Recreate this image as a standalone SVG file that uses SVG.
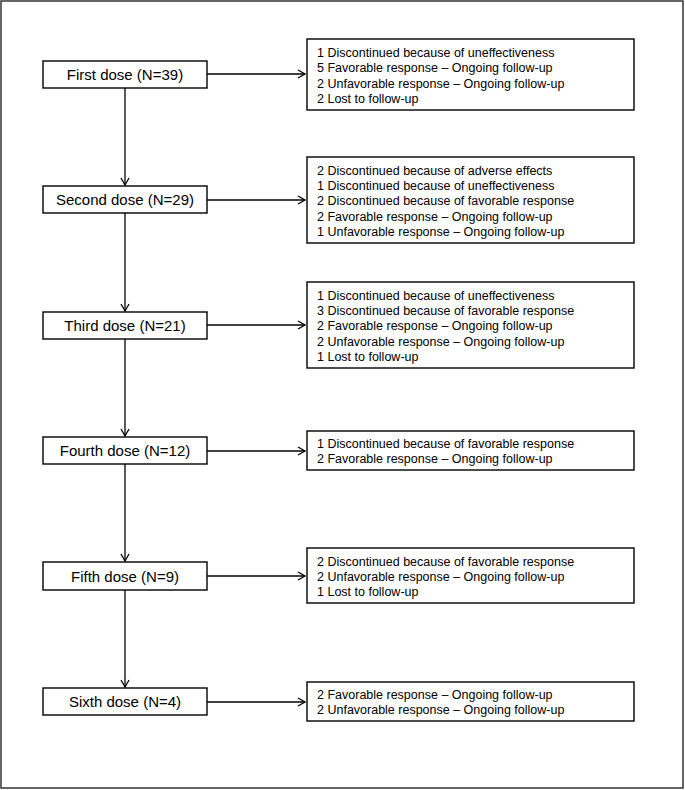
<svg xmlns="http://www.w3.org/2000/svg" width="685" height="790" viewBox="0 0 685 790">
<defs>
<marker id="ah" markerWidth="10" markerHeight="10" refX="8" refY="5" orient="auto" markerUnits="userSpaceOnUse">
<path d="M1,1 L8,5 L1,9" fill="none" stroke="#000" stroke-width="1.3"/>
</marker>
<style>
.box{fill:#fff;stroke:#000;stroke-width:1.4}
.lt{font-family:"Liberation Sans",Arial,sans-serif;font-size:15px;text-anchor:middle;fill:#000}
.rt{font-family:"Liberation Sans",Arial,sans-serif;font-size:12.5px;fill:#000}
.con{stroke:#000;stroke-width:1.3;fill:none;marker-end:url(#ah)}
</style>
</defs>
<rect x="0" y="0" width="685" height="790" fill="#fff"/>
<rect x="1" y="1" width="682" height="787" fill="none" stroke="#333" stroke-width="1.5"/>
<g id="connectors">
<line class="con" x1="207" y1="74" x2="305" y2="74"/>
<line class="con" x1="207" y1="200" x2="305" y2="200"/>
<line class="con" x1="207" y1="325" x2="305" y2="325"/>
<line class="con" x1="207" y1="451" x2="305" y2="451"/>
<line class="con" x1="207" y1="576" x2="305" y2="576"/>
<line class="con" x1="207" y1="702" x2="305" y2="702"/>
<line class="con" x1="125" y1="88" x2="125" y2="185"/>
<line class="con" x1="125" y1="213" x2="125" y2="311"/>
<line class="con" x1="125" y1="339" x2="125" y2="436"/>
<line class="con" x1="125" y1="464" x2="125" y2="561"/>
<line class="con" x1="125" y1="590" x2="125" y2="687"/>
</g>
<g id="dose1"><rect class="box" x="43" y="61" width="164" height="27"/><text class="lt" x="125" y="79.5">First dose (N=39)</text></g>
<g id="dose2"><rect class="box" x="43" y="186" width="164" height="27"/><text class="lt" x="125" y="205">Second dose (N=29)</text></g>
<g id="dose3"><rect class="box" x="43" y="312" width="164" height="27"/><text class="lt" x="125" y="330.5">Third dose (N=21)</text></g>
<g id="dose4"><rect class="box" x="43" y="437" width="164" height="27"/><text class="lt" x="125" y="456">Fourth dose (N=12)</text></g>
<g id="dose5"><rect class="box" x="43" y="562" width="164" height="28"/><text class="lt" x="125" y="581.5">Fifth dose (N=9)</text></g>
<g id="dose6"><rect class="box" x="43" y="688" width="164" height="27"/><text class="lt" x="125" y="707">Sixth dose (N=4)</text></g>
<g id="out1"><rect class="box" x="307" y="39" width="327" height="71"/>
<text class="rt" x="317" y="56.5">1 Discontinued because of uneffectiveness</text>
<text class="rt" x="317" y="71.5">5 Favorable response – Ongoing follow-up</text>
<text class="rt" x="317" y="87.5">2 Unfavorable response – Ongoing follow-up</text>
<text class="rt" x="317" y="102.5">2 Lost to follow-up</text></g>
<g id="out2"><rect class="box" x="307" y="157" width="327" height="86"/>
<text class="rt" x="317" y="174.5">2 Discontinued because of adverse effects</text>
<text class="rt" x="317" y="189.5">1 Discontinued because of uneffectiveness</text>
<text class="rt" x="317" y="205">2 Discontinued because of favorable response</text>
<text class="rt" x="317" y="220.5">2 Favorable response – Ongoing follow-up</text>
<text class="rt" x="317" y="235.5">1 Unfavorable response – Ongoing follow-up</text></g>
<g id="out3"><rect class="box" x="307" y="282" width="327" height="86"/>
<text class="rt" x="317" y="299.5">1 Discontinued because of uneffectiveness</text>
<text class="rt" x="317" y="314.5">3 Discontinued because of favorable response</text>
<text class="rt" x="317" y="330">2 Favorable response – Ongoing follow-up</text>
<text class="rt" x="317" y="345.5">2 Unfavorable response – Ongoing follow-up</text>
<text class="rt" x="317" y="360.5">1 Lost to follow-up</text></g>
<g id="out4"><rect class="box" x="307" y="431" width="327" height="39"/>
<text class="rt" x="317" y="447.5">1 Discontinued because of favorable response</text>
<text class="rt" x="317" y="462.5">2 Favorable response – Ongoing follow-up</text></g>
<g id="out5"><rect class="box" x="307" y="548" width="327" height="55"/>
<text class="rt" x="317" y="565.5">2 Discontinued because of favorable response</text>
<text class="rt" x="317" y="580.5">2 Unfavorable response – Ongoing follow-up</text>
<text class="rt" x="317" y="596">1 Lost to follow-up</text></g>
<g id="out6"><rect class="box" x="307" y="682" width="327" height="39"/>
<text class="rt" x="317" y="698.5">2 Favorable response – Ongoing follow-up</text>
<text class="rt" x="317" y="714">2 Unfavorable response – Ongoing follow-up</text></g>
</svg>
